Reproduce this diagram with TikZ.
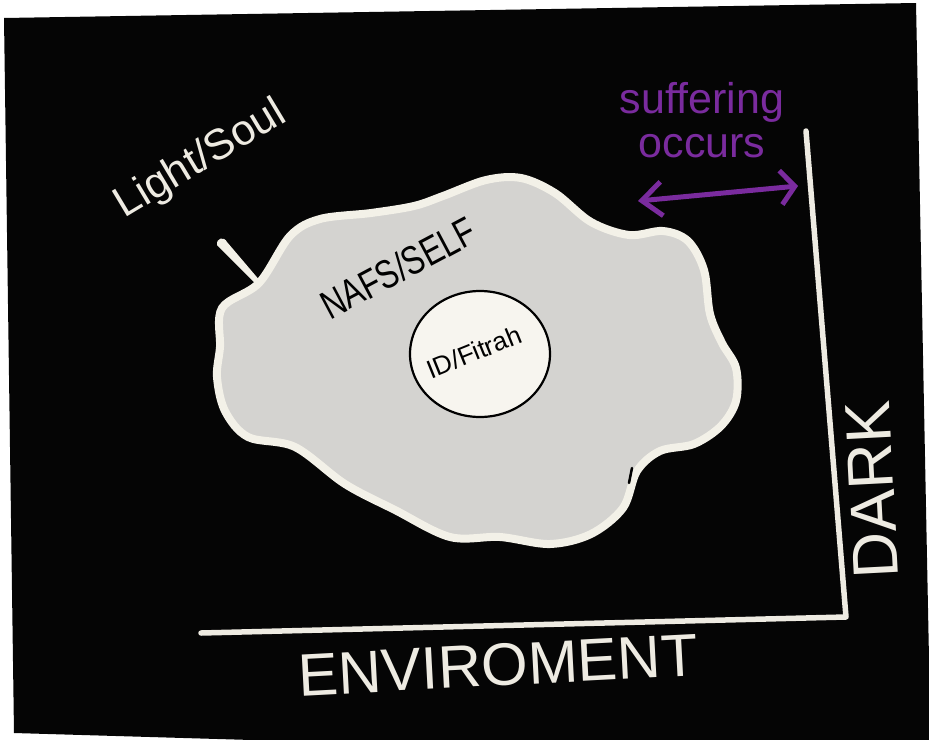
\documentclass[tikz,border=0pt]{standalone}
\usepackage{fontspec}
\setmainfont{Liberation Sans}
\usetikzlibrary{arrows.meta}
\definecolor{bg}{HTML}{050505}
\definecolor{cream}{HTML}{EEEBE2}
\definecolor{cloudfill}{HTML}{D4D3D0}
\definecolor{cloudline}{HTML}{F3F1E8}
\definecolor{corefill}{HTML}{F7F5EF}
\definecolor{purp}{HTML}{7A2B9E}
\begin{document}
\begin{tikzpicture}[x=1pt,y=-1pt,
  lbl/.style={inner sep=0pt, text=cream},
  dlbl/.style={inner sep=0pt, text=black},
  plbl/.style={inner sep=0pt, text=purp, align=center},
  axisline/.style={draw=cream, line width=5.5pt, line cap=round, line join=round},
  cloudshape/.style={draw=cloudline, fill=cloudfill, line width=8pt},
  coreshape/.style={draw=black, fill=corefill, line width=2.2pt},
  suffarrow/.style={draw=purp, line width=5pt, line cap=round,
    {Straight Barb[length=20pt,width=34pt]}-{Straight Barb[length=14pt,width=34pt]}}]
\useasboundingbox (0,0) rectangle (929,739);
\fill[white] (0,0) rectangle (929,739);
\fill[bg] (4,18) -- (916,3) -- (931,760) -- (14,733) -- cycle;

% cloud (nafs / self)
\path[cloudshape] plot[smooth cycle, tension=0.55] coordinates {
  (220,347) (222,308) (259,283) (290,236) (320,219) (371,213) (414,206)
  (443,196) (486,180) (521,178) (555,193) (591,222) (629,235) (663,231)
  (688,241) (704,270) (710,314) (722,343) (736,368) (736,401) (721,426)
  (694,444) (660,451) (637,471) (623,508) (591,534) (550,544) (500,537)
  (450,537) (395,510) (345,484) (295,447) (248,437) (225,411) (217,377)};
% spike on the cloud
\fill[cloudline] (217,245) .. controls (216,238) and (224,236) .. (227,242)
  -- (261,282) -- (255,283) -- cycle;
% small dark mark
\draw[black, line width=2.5pt, line cap=round] (632,468) -- (629,483);

% inner core
\path[coreshape] (480,354) ellipse [x radius=70pt, y radius=63pt];

% axes
\coordinate (ytop) at (806,131);
\coordinate (corner) at (846,617);
\coordinate (xleft) at (201,633);
\draw[axisline] (ytop) -- (corner) -- (xleft);

% suffering arrow
\coordinate (al) at (638,201);
\coordinate (ar) at (798,186);
\draw[suffarrow] (al) -- (ar);

% labels
\node[lbl, rotate=31, font=\fontsize{43}{43}\selectfont] (light) at (201,160) {Light/Soul};
\node[dlbl, rotate=28, font=\fontsize{31}{31}\selectfont] (nafs) at (398,268) {\scalebox{1}[1.3]{NAFS/SELF}};
\node[dlbl, rotate=22, font=\fontsize{26}{26}\selectfont] (idt) at (474,352) {ID/Fitrah};
\node[plbl, font=\fontsize{43}{44}\selectfont] (suff) at (702,120) {suffering\\occurs};
\node[lbl, rotate=3, font=\fontsize{60}{60}\selectfont] (env) at (498,665) {ENVIROMENT};
\node[lbl, rotate=93, font=\fontsize{64}{64}\selectfont] (dark) at (872,490) {DARK};
\end{tikzpicture}
\end{document}
